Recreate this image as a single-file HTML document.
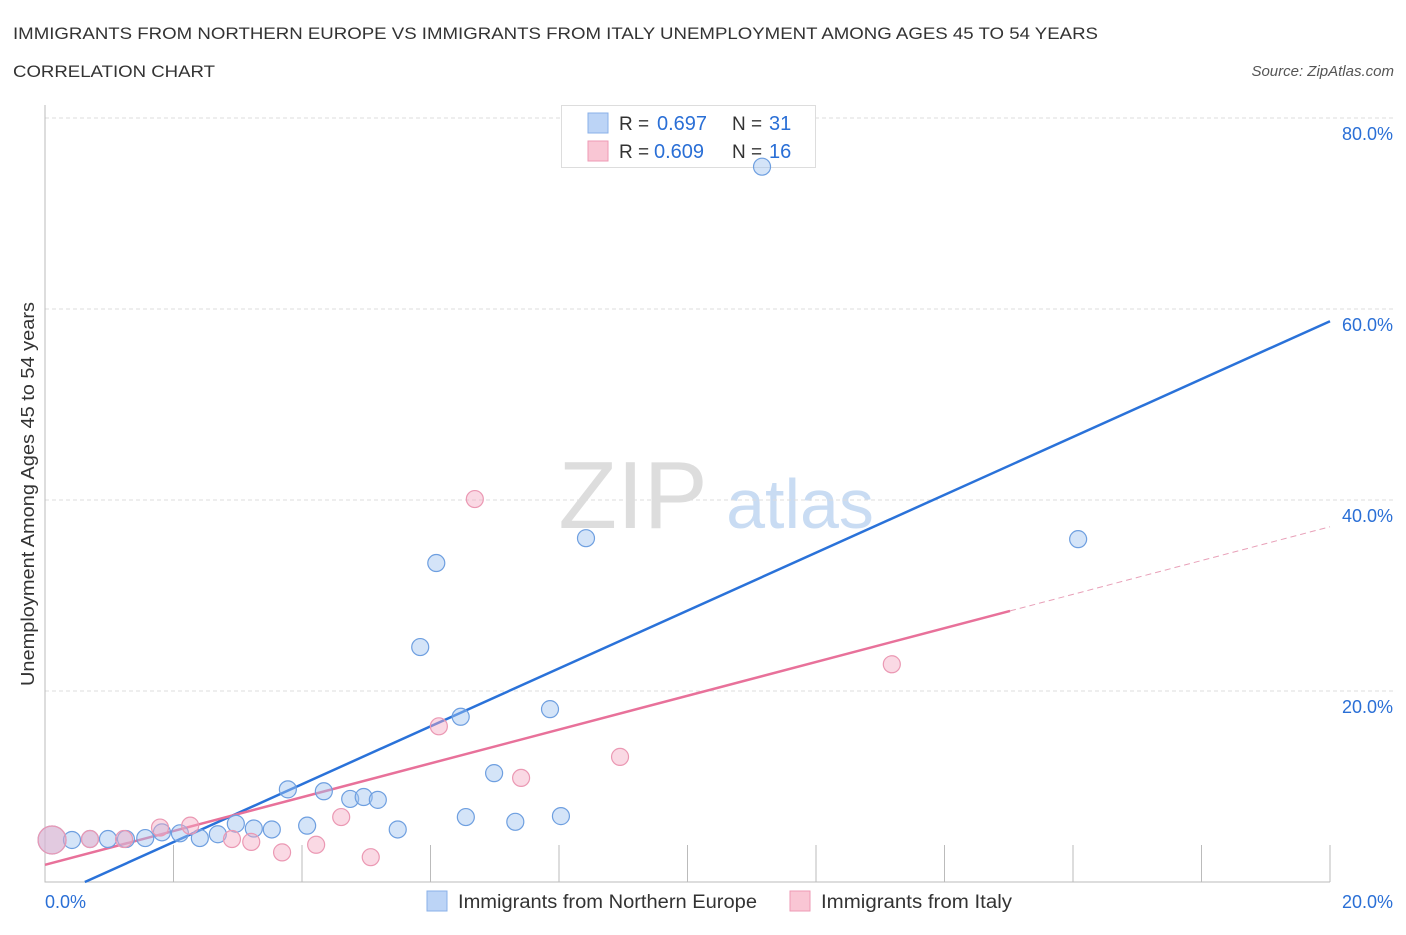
<!DOCTYPE html>
<html><head><meta charset="utf-8"><style>
body{margin:0;background:#fff;font-family:"Liberation Sans",sans-serif;}
svg text{font-family:"Liberation Sans",sans-serif;}
</style></head><body>
<svg id="chart" width="1406" height="930" xmlns="http://www.w3.org/2000/svg">
<text x="13" y="39" font-size="17" fill="#333" textLength="1085" lengthAdjust="spacingAndGlyphs">IMMIGRANTS FROM NORTHERN EUROPE VS IMMIGRANTS FROM ITALY UNEMPLOYMENT AMONG AGES 45 TO 54 YEARS</text>
<text x="13" y="77" font-size="17" fill="#333" textLength="202" lengthAdjust="spacingAndGlyphs">CORRELATION CHART</text>
<text x="1394" y="76" font-size="15" fill="#555" font-style="italic" text-anchor="end">Source: ZipAtlas.com</text>
<text x="633" y="528" font-size="96" fill="#ddd" font-family="Liberation Serif" text-anchor="middle">ZIP</text>
<text x="800" y="528" font-size="70" fill="#c9dcf3" text-anchor="middle">atlas</text>
<text transform="translate(34,494) rotate(-90)" font-size="18" fill="#333" text-anchor="middle" textLength="384" lengthAdjust="spacingAndGlyphs">Unemployment Among Ages 45 to 54 years</text>
<g id="grid"></g>
<g>
<rect x="561.5" y="105.5" width="254" height="62" fill="#fff" stroke="#ddd"/>
<rect x="588" y="113" width="20" height="20" fill="#bcd4f6" stroke="#8ab0e8"/>
<text x="619" y="130" font-size="19" fill="#333">R =</text>
<text x="657" y="130" font-size="20" fill="#2a6fd6">0.697</text>
<text x="732" y="130" font-size="19" fill="#333">N =</text>
<text x="769" y="130" font-size="20" fill="#2a6fd6">31</text>
<rect x="588" y="141" width="20" height="20" fill="#f9c6d4" stroke="#ee9ab4"/>
<text x="619" y="158" font-size="19" fill="#333">R =</text>
<text x="654" y="158" font-size="20" fill="#2a6fd6">0.609</text>
<text x="732" y="158" font-size="19" fill="#333">N =</text>
<text x="769" y="158" font-size="20" fill="#2a6fd6">16</text>
</g>
<g id="lines"></g><g id="pts"></g>
<g>
<rect x="427" y="891" width="20" height="20" fill="#bcd4f6" stroke="#8ab0e8"/>
<text x="458" y="908" font-size="19" fill="#333" textLength="299" lengthAdjust="spacingAndGlyphs">Immigrants from Northern Europe</text>
<rect x="790" y="891" width="20" height="20" fill="#f9c6d4" stroke="#ee9ab4"/>
<text x="821" y="908" font-size="19" fill="#333" textLength="191" lengthAdjust="spacingAndGlyphs">Immigrants from Italy</text>
</g>
</svg>
<script>
const blueX=[0.11,0.42,0.70,0.98,1.26,1.56,1.82,2.10,2.41,2.69,2.97,3.25,3.53,3.78,4.08,4.34,4.75,4.96,5.18,5.49,5.84,6.09,6.47,6.55,6.99,7.32,7.86,8.03,8.42,11.16,16.08];
const blueY=[4.4,4.4,4.5,4.5,4.5,4.6,5.2,5.1,4.6,5.0,6.1,5.6,5.5,9.7,5.9,9.5,8.7,8.9,8.6,5.5,24.6,33.4,17.3,6.8,11.4,6.3,18.1,6.9,36.0,74.9,35.9];
const pinkX=[0.11,0.70,1.23,1.79,2.26,2.91,3.21,3.69,4.22,4.61,5.07,6.13,6.69,7.41,8.95,13.18];
const pinkY=[4.4,4.5,4.5,5.7,5.9,4.5,4.2,3.1,3.9,6.8,2.6,16.3,40.1,10.9,13.1,22.8];
const yTicks=[20,40,60,80];
const yTickLabels=["20.0%","40.0%","60.0%","80.0%"];
const blueFit=[-1.88,3.03];
const pinkFit=[1.8,1.77];
const NS="http://www.w3.org/2000/svg";
const X=v=>45+v*64.25, Y=v=>882-v*9.55;
function mk(p,t,a){const e=document.createElementNS(NS,t);for(const k in a)e.setAttribute(k,a[k]);p.appendChild(e);return e;}
const g=document.getElementById('grid');
yTicks.forEach((t,i)=>{
 const l=mk(g,'line',{x1:45,x2:1395,y1:Y(t),y2:Y(t),stroke:'#ddd','stroke-dasharray':'4,3'});
 
 
 const tx=mk(g,'text',{x:1393,y:Y(t)+22,'font-size':18,fill:'#2a6fd6','text-anchor':'end'});tx.textContent=yTickLabels[i];
 
 
});
const ax=mk(g,'path',{d:'M45,105V882H1330',stroke:'#bbb',fill:'none'});


for(let i=1;i<=10;i++){const t=mk(g,'line',{x1:X(i*2),x2:X(i*2),y1:845,y2:882,stroke:'#bbb'});
 
 }
const x0=mk(g,'text',{x:45,y:908,'font-size':18,fill:'#2a6fd6'});x0.textContent='0.0%';


const x1=mk(g,'text',{x:1393,y:908,'font-size':18,fill:'#2a6fd6','text-anchor':'end'});x1.textContent='20.0%';


const L=document.getElementById('lines');
const xs=-blueFit[0]/blueFit[1];
const bl=mk(L,'line',{x1:X(xs),y1:Y(0),x2:X(20),y2:Y(blueFit[0]+blueFit[1]*20),stroke:'#2a72d9','stroke-width':2.5});


const pl=mk(L,'line',{x1:X(0),y1:Y(pinkFit[0]),x2:X(15.02),y2:Y(pinkFit[0]+pinkFit[1]*15.02),stroke:'#e8719a','stroke-width':2.5});


const pd=mk(L,'line',{x1:X(15.02),y1:Y(pinkFit[0]+pinkFit[1]*15.02),x2:X(20),y2:Y(pinkFit[0]+pinkFit[1]*20),stroke:'#e8a0b8','stroke-width':1,'stroke-dasharray':'6,4'});


const P=document.getElementById('pts');
blueX.forEach((v,i)=>{const c=mk(P,'circle',{cx:X(v),cy:Y(blueY[i]),r:i==0?14:8.5,fill:'rgba(160,195,240,0.45)',stroke:'#6e9fe0','stroke-width':1.2});
 
 });
pinkX.forEach((v,i)=>{const c=mk(P,'circle',{cx:X(v),cy:Y(pinkY[i]),r:i==0?14:8.5,fill:'rgba(245,170,195,0.45)',stroke:'#eb98b3','stroke-width':1.2});
 
 });
</script>
</body></html>
